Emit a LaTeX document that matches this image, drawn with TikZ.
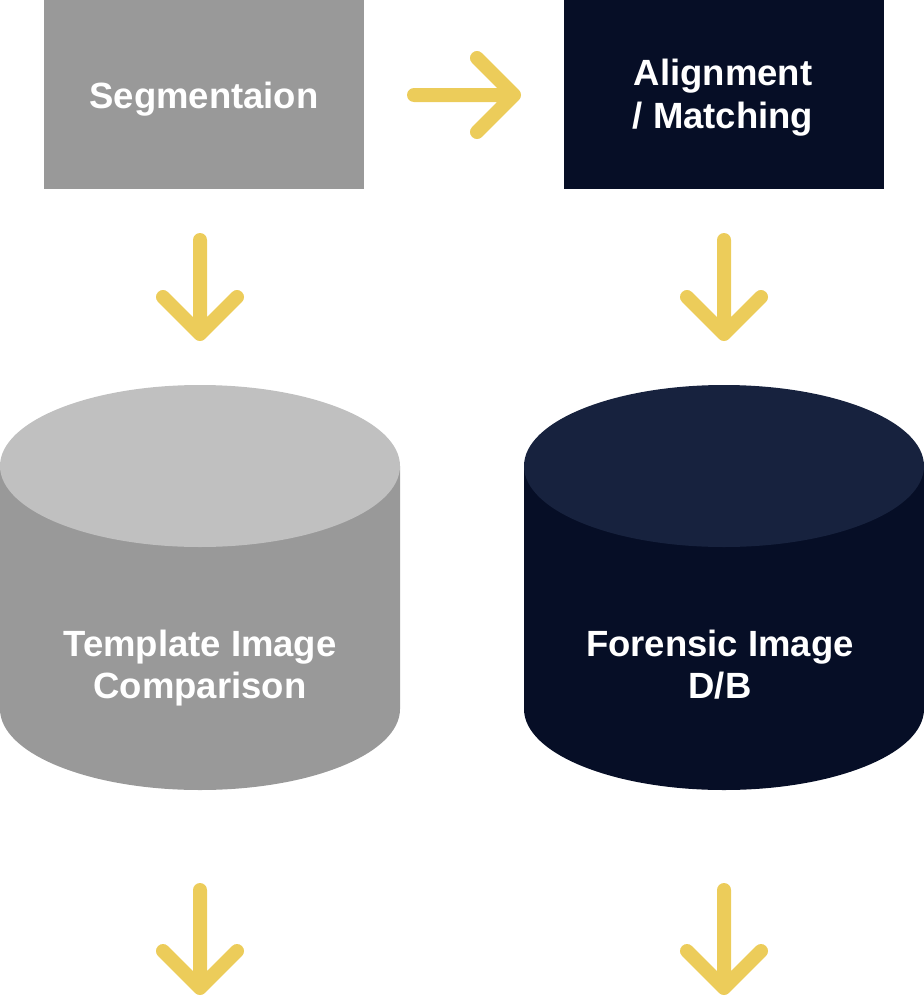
\documentclass[tikz,border=0pt]{standalone}
\usepackage{fontspec}
\setmainfont{Liberation Sans}
\usetikzlibrary{calc}
\definecolor{flowgray}{HTML}{999999}
\definecolor{flowlight}{HTML}{C0C0C0}
\definecolor{flownavy}{HTML}{060E26}
\definecolor{flownavytop}{HTML}{17223E}
\definecolor{flowyellow}{HTML}{ECCC5A}
\tikzset{
  stagebox/.style={minimum width=320pt, minimum height=189pt, inner sep=0pt},
  caption/.style={text=white, inner sep=0pt, anchor=base,
    font=\bfseries\fontsize{36.5}{43}\selectfont},
  flowarrow/.style={draw=flowyellow, line width=14pt, line cap=round, line join=round},
}
\begin{document}
\begin{tikzpicture}[x=1pt,y=-1pt]
\useasboundingbox (0,0) rectangle (924,999);

% process boxes
\node[stagebox, fill=flowgray] (seg) at (204,94.5) {};
\node[stagebox, fill=flownavy] (align) at (724,94.5) {};
\node[caption] (segt) at (204,108) {Segmentaion};
\node[caption] (alignt1) at (723,85) {Alignment};
\node[caption] (alignt2) at (723,128) {/ Matching};

% databases drawn as cylinders (body, then top face)
\fill[flowgray] (0,466) -- (0,709) arc[start angle=180, end angle=360, x radius=200, y radius=-81] -- (400,466) -- cycle;
\fill[flowlight] (200,466) ellipse[x radius=200, y radius=81];
\coordinate (tmpl) at (200,587);
\node[caption] (tmplt1) at (200,656) {Template Image};
\node[caption] (tmplt2) at (200,698) {Comparison};

\fill[flownavy] (524,466) -- (524,709) arc[start angle=180, end angle=360, x radius=200, y radius=-81] -- (924,466) -- cycle;
\fill[flownavytop] (724,466) ellipse[x radius=200, y radius=81];
\coordinate (fdb) at (724,587);
\node[caption] (fdbt1) at (720,656) {Forensic Image};
\node[caption] (fdbt2) at (720,698) {D/B};

% arrow end points
\coordinate (r0) at (414,95);  \coordinate (r1) at (514,95);
\coordinate (a0) at (200,240); \coordinate (a1) at (200,334);
\coordinate (b0) at (724,240); \coordinate (b1) at (724,334);
\coordinate (c0) at (200,890); \coordinate (c1) at (200,988);
\coordinate (d0) at (724,890); \coordinate (d1) at (724,988);

% arrows
\draw[flowarrow] (r0) -- (r1) ($(r1)+(-37,-37)$) -- (r1) -- ($(r1)+(-37,37)$);
\foreach \s/\e in {a0/a1,b0/b1,c0/c1,d0/d1}{
  \draw[flowarrow] (\s) -- (\e) ($(\e)+(-37,-37)$) -- (\e) -- ($(\e)+(37,-37)$);
}
\end{tikzpicture}
\end{document}
